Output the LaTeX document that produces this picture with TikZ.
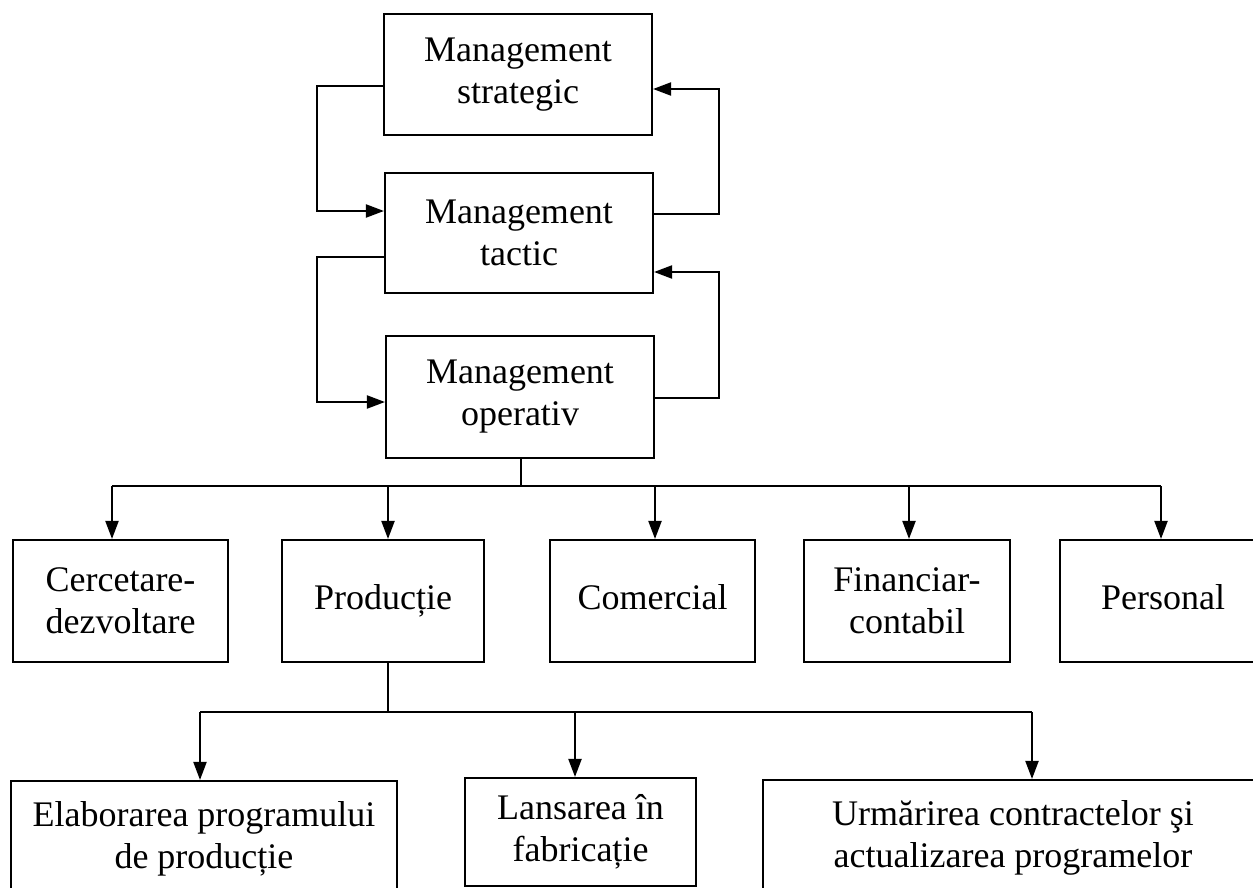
\documentclass[tikz,border=0pt]{standalone}
\usepackage{fontspec}
\setmainfont{Liberation Serif}
\usetikzlibrary{arrows.meta}

\tikzset{
  unitbox/.style={draw, line width=2.1pt, inner sep=0pt, align=center,
    font=\fontsize{36}{42}\selectfont},
  link/.style={line width=2.1pt},
  arr/.style={line width=2.1pt, -{Triangle[length=18pt,width=13pt]}},
}

\begin{document}
\begin{tikzpicture}[x=1pt,y=1pt]
\useasboundingbox (0,0) rectangle (1253,-888);
\clip (0,0) rectangle (1253,-888);

% management levels
\node[unitbox, minimum width=268pt, minimum height=121pt] (ms) at (518,-74.5) {Management\\strategic};
\node[unitbox, minimum width=268pt, minimum height=120pt] (mt) at (519,-233) {Management\\tactic};
\node[unitbox, minimum width=268pt, minimum height=122pt] (mo) at (520,-397) {Management\\operativ};

% functional departments
\node[unitbox, minimum width=215pt, minimum height=122pt] (cd) at (120.5,-601) {Cercetare-\\dezvoltare};
\node[unitbox, minimum width=202pt, minimum height=122pt] (pr) at (383,-601) {Producție\strut};
\node[unitbox, minimum width=205pt, minimum height=122pt] (co) at (652.5,-601) {Comercial\strut};
\node[unitbox, minimum width=206pt, minimum height=122pt] (fc) at (907,-601) {Financiar-\\contabil};
\node[unitbox, minimum width=206pt, minimum height=122pt] (pe) at (1163,-601) {Personal\strut};

% production activities
\node[unitbox, minimum width=386pt, minimum height=116pt] (el) at (204,-839) {Elaborarea programului\\de producție};
\node[unitbox, minimum width=231pt, minimum height=108pt] (la) at (580.5,-832) {Lansarea în\\fabricație};
\node[unitbox, minimum width=500pt, minimum height=116pt] (ur) at (1013,-838) {Urmărirea contractelor şi\\actualizarea programelor};

% side loops between the management levels
\coordinate (L) at (317,0);
\coordinate (R) at (719,0);

\coordinate (ms-l) at ([yshift=-11.5pt]ms.west);
\coordinate (mt-l-in) at ([yshift=22pt]mt.west);
\draw[arr] (ms-l) -- (ms-l -| L) -- (mt-l-in -| L) -- (mt-l-in);

\coordinate (mt-r) at ([yshift=19pt]mt.east);
\coordinate (ms-r-in) at ([yshift=-14.5pt]ms.east);
\draw[arr] (mt-r) -- (mt-r -| R) -- (ms-r-in -| R) -- (ms-r-in);

\coordinate (mt-l) at ([yshift=-24pt]mt.west);
\coordinate (mo-l-in) at ([yshift=-5pt]mo.west);
\draw[arr] (mt-l) -- (mt-l -| L) -- (mo-l-in -| L) -- (mo-l-in);

\coordinate (mo-r) at ([yshift=-1pt]mo.east);
\coordinate (mt-r-in) at ([yshift=-39pt]mt.east);
\draw[arr] (mo-r) -- (mo-r -| R) -- (mt-r-in -| R) -- (mt-r-in);

% distribution to the departments
\coordinate (bus1) at (0,-486);
\coordinate (cd-in) at ([xshift=-8.5pt]cd.north);
\coordinate (pr-in) at ([xshift=5pt]pr.north);
\coordinate (co-in) at ([xshift=2.5pt]co.north);
\coordinate (fc-in) at ([xshift=2pt]fc.north);
\coordinate (pe-in) at ([xshift=-2pt]pe.north);
\draw[link] ([xshift=1pt]mo.south) -- ([xshift=1pt]mo.south |- bus1);
\draw[link] (cd-in |- bus1) -- (pe-in |- bus1);
\foreach \t in {cd-in,pr-in,co-in,fc-in,pe-in}
  \draw[arr] (\t |- bus1) -- (\t);

% distribution to the production activities
\coordinate (bus2) at (0,-712);
\coordinate (pr-out) at ([xshift=5pt]pr.south);
\coordinate (el-in) at ([xshift=-4pt]el.north);
\coordinate (la-in) at ([xshift=-5.5pt]la.north);
\coordinate (ur-in) at ([xshift=19pt]ur.north);
\draw[link] (pr-out) -- (pr-out |- bus2);
\draw[link] (el-in |- bus2) -- (ur-in |- bus2);
\foreach \t in {el-in,la-in,ur-in}
  \draw[arr] (\t |- bus2) -- (\t);
\end{tikzpicture}
\end{document}
